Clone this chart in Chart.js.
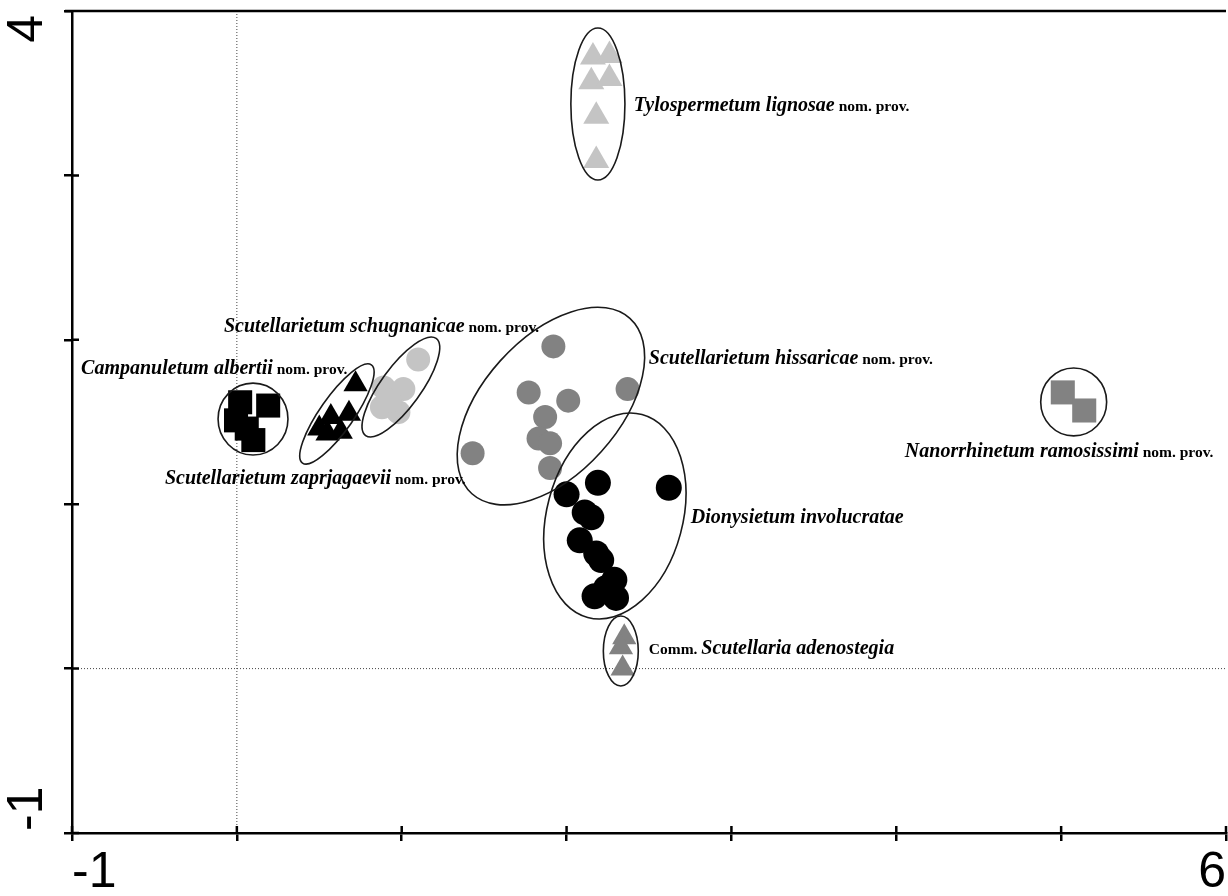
<!DOCTYPE html>
<html>
<head>
<meta charset="utf-8">
<script src="https://cdn.jsdelivr.net/npm/chart.js@4.4.1/dist/chart.umd.min.js"></script>
<style>
  html, body { margin: 0; padding: 0; background: #fff; }
  #wrap { width: 1228px; height: 896px; }
</style>
</head>
<body>
<div id="wrap"><canvas id="myChart"></canvas></div>
<script>
// axis range and which ticks get a label
const xRange = [-1, 6];
const yRange = [-1, 4];
const xLabeled = [-1, 6];
const yLabeled = [-1, 4];

// Campanuletum albertii (black squares)
const campX = [0.02, 0.19, -0.005, 0.06, 0.10];
const campY = [1.62, 1.60, 1.51, 1.46, 1.39];

// Scutellarietum zaprjagaevii (black triangles)
const zapX = [0.72, 0.68, 0.57, 0.50, 0.63, 0.55];
const zapY = [1.73, 1.55, 1.53, 1.46, 1.44, 1.43];

// Scutellarietum schugnanicae (light grey circles)
const schugX = [1.10, 0.89, 1.01, 0.88, 0.98, 0.93];
const schugY = [1.88, 1.71, 1.70, 1.59, 1.56, 1.63];

// Scutellarietum hissaricae (grey circles)
const hissX = [1.92, 1.77, 2.01, 1.87, 1.83, 1.90, 1.43, 1.90, 2.37];
const hissY = [1.96, 1.68, 1.63, 1.53, 1.40, 1.37, 1.31, 1.22, 1.70];

// Dionysietum involucratae (black circles)
const dionX = [2.19, 2.62, 2.00, 2.11, 2.15, 2.08, 2.18, 2.21, 2.29, 2.17, 2.30, 2.24];
const dionY = [1.13, 1.10, 1.06, 0.95, 0.92, 0.78, 0.70, 0.66, 0.54, 0.44, 0.43, 0.49];

// Tylospermetum lignosae (light grey triangles)
const tyloX = [2.16, 2.26, 2.15, 2.26, 2.18, 2.18];
const tyloY = [3.72, 3.73, 3.57, 3.59, 3.36, 3.09];

// Comm. Scutellaria adenostegia (grey triangles)
const commX = [2.35, 2.33, 2.34];
const commY = [0.19, 0.13, 0.00];

// Nanorrhinetum ramosissimi (grey squares)
const nanoX = [5.01, 5.14];
const nanoY = [1.68, 1.57];

// ellipses round the groups: centre in data units, half axes in x units, angle in degrees
const ellipses = [
  { cx: 0.098, cy: 1.518, a: 0.212, b: 0.218, rot: 0 },
  { cx: 0.607, cy: 1.549, a: 0.364, b: 0.103, rot: -55 },
  { cx: 0.995, cy: 1.713, a: 0.364, b: 0.121, rot: -54 },
  { cx: 1.905, cy: 1.597, a: 0.716, b: 0.412, rot: -48 },
  { cx: 2.293, cy: 0.928, a: 0.637, b: 0.412, rot: -75 },
  { cx: 2.190, cy: 3.434, a: 0.164, b: 0.461, rot: 0 },
  { cx: 2.329, cy: 0.107, a: 0.106, b: 0.212, rot: 0 },
  { cx: 5.076, cy: 1.622, a: 0.200, b: 0.206, rot: 0 }
];

// group names, each part: [text, italic?]
const groupNames = [
  [["Tylospermetum lignosae", true], [" nom. prov.", false]],
  [["Scutellarietum schugnanicae", true], [" nom. prov.", false]],
  [["Scutellarietum hissaricae", true], [" nom. prov.", false]],
  [["Campanuletum albertii", true], [" nom. prov.", false]],
  [["Scutellarietum zaprjagaevii", true], [" nom. prov.", false]],
  [["Nanorrhinetum ramosissimi", true], [" nom. prov.", false]],
  [["Dionysietum involucratae", true]],
  [["Comm. ", false], ["Scutellaria adenostegia", true]]
];
const nameX = [2.408, -0.078, 2.499, -0.945, -0.436, 4.052, 2.754, 2.499];
const nameY = [3.392, 2.047, 1.853, 1.792, 1.123, 1.287, 0.886, 0.089];

function pts(xs, ys) {
  return xs.map(function (x, i) { return { x: x, y: ys[i] }; });
}

function group(data, style, radius, color) {
  return {
    data: data,
    pointStyle: style,
    pointRadius: radius,
    pointHoverRadius: radius,
    backgroundColor: color,
    borderWidth: 0
  };
}

const extras = {
  id: "extras",
  beforeDatasetsDraw: function (chart) {
    const ctx = chart.ctx;
    const xs = chart.scales.x, ys = chart.scales.y;
    const area = chart.chartArea;
    ctx.save();
    // dotted zero lines
    ctx.strokeStyle = "#444";
    ctx.lineWidth = 1;
    ctx.setLineDash([1, 2]);
    const x0 = xs.getPixelForValue(0), y0 = ys.getPixelForValue(0);
    ctx.beginPath();
    ctx.moveTo(x0, area.top);
    ctx.lineTo(x0, area.bottom);
    ctx.moveTo(area.left, y0);
    ctx.lineTo(area.right, y0);
    ctx.stroke();
    ctx.setLineDash([]);
    // inner half of tick marks + top line
    ctx.strokeStyle = "#000";
    ctx.lineWidth = 2.5;
    ctx.beginPath();
    xs.ticks.forEach(function (t) {
      const p = xs.getPixelForValue(t.value);
      ctx.moveTo(p, area.bottom);
      ctx.lineTo(p, area.bottom - 7);
    });
    ys.ticks.forEach(function (t) {
      const p = ys.getPixelForValue(t.value);
      ctx.moveTo(area.left, p);
      ctx.lineTo(area.left + 7, p);
    });
    ctx.moveTo(area.left - 7, area.top);
    ctx.lineTo(area.right, area.top);
    ctx.stroke();
    // rotated y labels
    ctx.fillStyle = "#000";
    ctx.font = "50px 'Liberation Sans', Arial, sans-serif";
    ctx.textBaseline = "middle";
    yLabeled.forEach(function (v) {
      const p = ys.getPixelForValue(v);
      ctx.save();
      ctx.translate(28, v === yRange[1] ? p + 4 : p - 2);
      ctx.rotate(-Math.PI / 2);
      ctx.textAlign = v === yRange[1] ? "right" : "left";
      ctx.fillText(String(v), 0, 0);
      ctx.restore();
    });
    ctx.restore();
  },
  afterDatasetsDraw: function (chart) {
    const ctx = chart.ctx;
    const xs = chart.scales.x, ys = chart.scales.y;
    const unit = xs.getPixelForValue(1) - xs.getPixelForValue(0);
    ctx.save();
    ctx.strokeStyle = "#1a1a1a";
    ctx.lineWidth = 1.6;
    ellipses.forEach(function (e) {
      ctx.beginPath();
      ctx.ellipse(xs.getPixelForValue(e.cx), ys.getPixelForValue(e.cy),
        e.a * unit, e.b * unit, e.rot * Math.PI / 180, 0, Math.PI * 2);
      ctx.stroke();
    });
    ctx.fillStyle = "#000";
    ctx.textBaseline = "alphabetic";
    ctx.textAlign = "left";
    groupNames.forEach(function (parts, i) {
      let px = xs.getPixelForValue(nameX[i]);
      const py = ys.getPixelForValue(nameY[i]);
      parts.forEach(function (p) {
        ctx.font = p[1]
          ? "italic bold 20px 'Liberation Serif', 'Times New Roman', serif"
          : "bold 15.5px 'Liberation Serif', 'Times New Roman', serif";
        ctx.fillText(p[0], px, py);
        px += ctx.measureText(p[0]).width;
      });
    });
    ctx.restore();
  }
};

new Chart("myChart", {
  type: "scatter",
  data: {
    datasets: [
      group(pts(campX, campY), "rect", 17, "#000000"),
      group(pts(zapX, zapY), "triangle", 14, "#000000"),
      group(pts(schugX, schugY), "circle", 12, "#c4c4c4"),
      group(pts(hissX, hissY), "circle", 12, "#828282"),
      group(pts(dionX, dionY), "circle", 13, "#000000"),
      group(pts(tyloX, tyloY), "triangle", 15, "#c4c4c4"),
      group(pts(commX, commY), "triangle", 14, "#828282"),
      group(pts(nanoX, nanoY), "rect", 17, "#828282")
    ]
  },
  options: {
    responsive: true,
    maintainAspectRatio: false,
    animation: false,
    layout: { autoPadding: false, padding: { top: 11, right: 2, left: 0, bottom: 0 } },
    plugins: { legend: { display: false }, tooltip: { enabled: false } },
    scales: {
      x: {
        type: "linear",
        min: xRange[0],
        max: xRange[1],
        afterFit: function (s) { s.height = 63; },
        ticks: {
          stepSize: 1,
          align: "inner",
          padding: 2,
          color: "#000",
          font: { family: "'Liberation Sans', Arial, sans-serif", size: 50 },
          callback: function (v) { return xLabeled.indexOf(v) >= 0 ? String(v) : ""; }
        },
        grid: { drawOnChartArea: false, tickLength: 8, color: "#000", lineWidth: 2.5 },
        border: { color: "#000", width: 2.5 }
      },
      y: {
        type: "linear",
        min: yRange[0],
        max: yRange[1],
        afterFit: function (s) { s.width = 72; },
        ticks: { stepSize: 1, display: false },
        grid: { drawOnChartArea: false, tickLength: 8, color: "#000", lineWidth: 2.5 },
        border: { color: "#000", width: 2.5 }
      }
    }
  },
  plugins: [extras]
});
</script>
</body>
</html>
